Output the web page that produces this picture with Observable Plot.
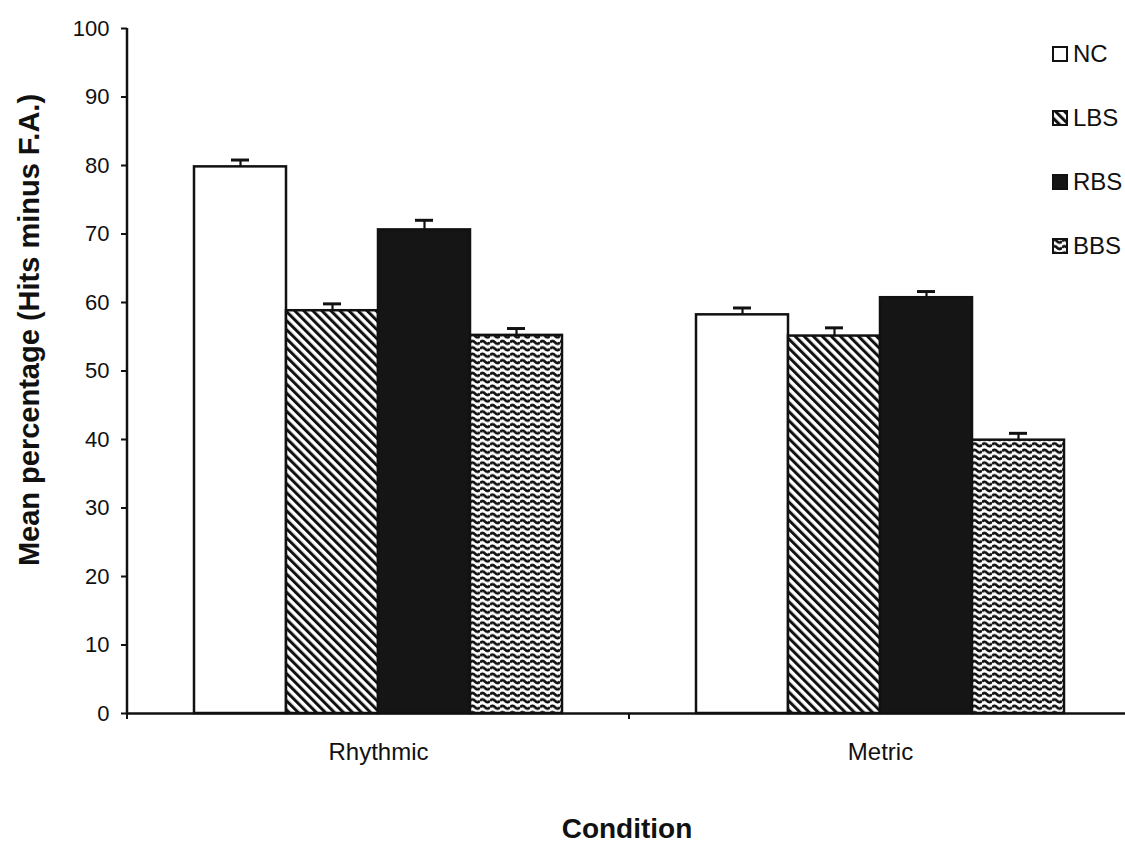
<!DOCTYPE html>
<html>
<head>
<meta charset="utf-8">
<script src="https://cdn.jsdelivr.net/npm/d3@7"></script>
<script src="https://cdn.jsdelivr.net/npm/@observablehq/plot@0.6"></script>
<style>
  html, body { margin: 0; padding: 0; background: #fff; overflow: hidden; }
  #chart { position: relative; width: 1125px; height: 849px; font-family: "Liberation Sans", Arial, sans-serif; color: #111; }
  .legend { position: absolute; left: 1052px; top: 22px; }
  .legend .item { height: 64px; display: flex; align-items: center; gap: 5px; font-size: 24px; }
  .legend svg { display: block; }
</style>
</head>
<body>
<!-- fill patterns shared by the bars and the legend swatches -->
<svg width="0" height="0" style="position:absolute">
  <defs>
    <pattern id="hatch-lbs" patternUnits="userSpaceOnUse" width="6.4" height="6.4" patternTransform="rotate(-45)">
      <rect width="6.4" height="6.4" fill="#fff"/>
      <rect width="3" height="6.4" fill="#111"/>
    </pattern>
    <pattern id="wave-bbs" patternUnits="userSpaceOnUse" width="10" height="6.4">
      <rect width="10" height="6.4" fill="#fff"/>
      <path d="M0 3.2 Q2.5 0.6 5 3.2 T10 3.2" fill="none" stroke="#111" stroke-width="2.8"/>
    </pattern>
  </defs>
</svg>
<div id="chart"></div>
<script>
// Conditions on the x axis and the four groups within each
const conditions = ["Rhythmic", "Metric"];
const groups = ["NC", "LBS", "RBS", "BBS"];

// Mean percentage (hits minus false alarms) and standard error per group
const rhythmicMeans = [79.8, 58.8, 70.6, 55.2];
const rhythmicErrors = [1.0, 1.0, 1.4, 1.0];
const metricMeans = [58.2, 55.1, 60.7, 39.9];
const metricErrors = [1.0, 1.2, 0.9, 1.0];

// Y axis tick values
const yTicks = [0, 10, 20, 30, 40, 50, 60, 70, 80, 90, 100];

// Fill for each group: open, hatched, solid, wavy
const groupFills = ["#fff", "url(#hatch-lbs)", "#151515", "url(#wave-bbs)"];

const rows = [
  ...groups.map((g, i) => ({condition: "Rhythmic", group: g, mean: rhythmicMeans[i], error: rhythmicErrors[i]})),
  ...groups.map((g, i) => ({condition: "Metric", group: g, mean: metricMeans[i], error: metricErrors[i]}))
];

const font = "'Liberation Sans', Arial, sans-serif";
const ink = "#111";

const plot = Plot.plot({
  width: 1125,
  height: 849,
  marginLeft: 127,
  marginRight: -6,
  marginTop: 28,
  marginBottom: 136,
  style: {fontFamily: font, color: ink, background: "transparent"},
  fx: {domain: conditions, padding: 0},
  x: {domain: groups, paddingInner: 0, paddingOuter: 0.728, axis: null},
  y: {domain: [0, 100]},
  color: {domain: groups, range: groupFills},
  marks: [
    Plot.axisY({ticks: yTicks, tickSize: 6, tickPadding: 12, fontSize: 22, strokeWidth: 2, label: null}),
    Plot.axisFx({anchor: "bottom", tickSize: 0, tickPadding: 29, fontSize: 24, label: null}),
    Plot.barY(rows, {fx: "condition", x: "group", y: "mean", fill: "group", stroke: ink, strokeWidth: 2.5}),
    Plot.ruleX(rows, {fx: "condition", x: "group", y1: "mean", y2: d => d.mean + d.error, stroke: ink, strokeWidth: 2.2}),
    Plot.tickY(rows, {fx: "condition", x: "group", y: d => d.mean + d.error, stroke: ink, strokeWidth: 3, insetLeft: 37, insetRight: 37}),
    Plot.ruleY([0], {stroke: ink, strokeWidth: 2.5})
  ]
});

document.getElementById("chart").appendChild(plot);

// Axis line, category dividers and axis titles, placed with the plot's scales
const y = plot.scale("y");
const fx = plot.scale("fx");
const svg = d3.select(plot);
const left = fx.range[0], right = fx.range[1];

svg.append("line")
  .attr("x1", left).attr("x2", left)
  .attr("y1", y.apply(0)).attr("y2", y.apply(100))
  .attr("stroke", ink).attr("stroke-width", 2.5);

const dividers = conditions.map(c => fx.apply(c)).concat([right]);
svg.append("g").selectAll("line").data(dividers).join("line")
  .attr("x1", d => d).attr("x2", d => d)
  .attr("y1", y.apply(0)).attr("y2", y.apply(0) + 6)
  .attr("stroke", ink).attr("stroke-width", 2);

svg.append("text")
  .attr("x", (left + right) / 2 - 2).attr("y", 838)
  .attr("text-anchor", "middle")
  .attr("font-family", font).attr("font-weight", "bold").attr("font-size", 28)
  .attr("fill", ink)
  .text("Condition");

svg.append("text")
  .attr("transform", "translate(39,330) rotate(-90)")
  .attr("text-anchor", "middle")
  .attr("font-family", font).attr("font-weight", "bold").attr("font-size", 29)
  .attr("fill", ink)
  .text("Mean percentage (Hits minus F.A.)");

// Legend in the top-right corner, using the colour scale's fills
const color = plot.scale("color");
const legend = d3.select("#chart").append("div").attr("class", "legend");
const items = legend.selectAll(".item").data(groups).join("div").attr("class", "item");
items.append("svg").attr("width", 16).attr("height", 16)
  .append("rect").attr("x", 1).attr("y", 1).attr("width", 14).attr("height", 14)
  .attr("fill", d => color.apply(d)).attr("stroke", ink).attr("stroke-width", 2);
items.append("span").text(d => d);
</script>
</body>
</html>
